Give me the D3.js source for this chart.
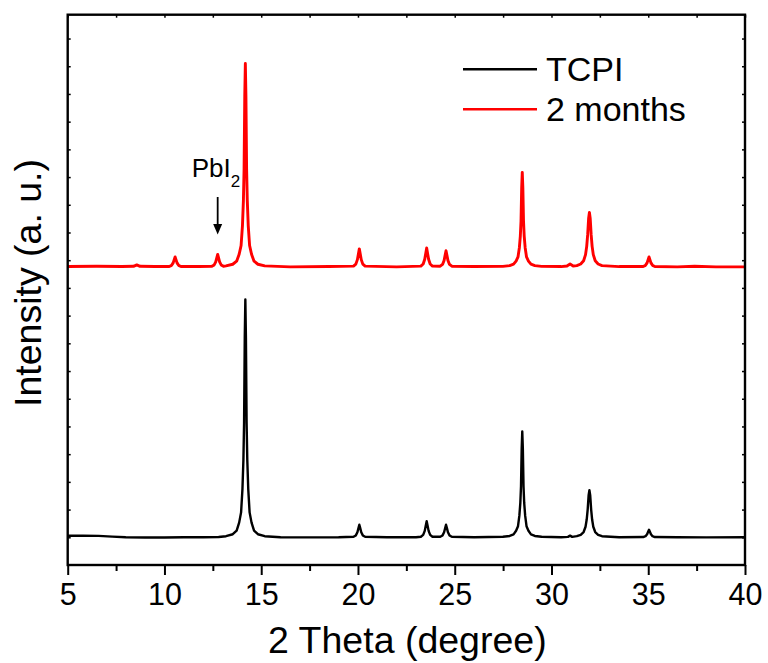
<!DOCTYPE html>
<html>
<head>
<meta charset="utf-8">
<script src="https://cdn.jsdelivr.net/npm/d3@7"></script>
<style>
  body { margin: 0; background: #fff; }
  text { font-family: "Liberation Sans", Arial, sans-serif; }
</style>
</head>
<body>
<svg id="chart" width="768" height="663"></svg>
<script>
// x ticks and labels
var xTicks = [5, 10, 15, 20, 25, 30, 35, 40];
var xMinorTicks = [7.5, 12.5, 17.5, 22.5, 27.5, 32.5, 37.5];
var yTicks = d3.range(5, 100, 5);

// legend
var seriesNames = ["TCPI", "2 months"];
var seriesColors = ["#000000", "#ff0000"];
var seriesWidths = [2.4, 2.9];

// TCPI pattern, [2theta, intensity]
var tcpi = [
  [5.0,5.28],[5.8,5.3],[6.6,5.25],[7.3,5.12],[8.0,5.0],[9.0,4.95],[10.0,4.97],[11.0,5.0],[12.0,5.0],[12.8,5.05],
  [13.18,5.2],[13.53,5.55],[13.73,6.2],[13.86,7.65],[13.96,9.5],[14.03,13.7],[14.08,19],[14.115,25.7],[14.15,41],[14.18,47.9],
  [14.21,41],[14.245,25.7],[14.28,19],[14.33,13.7],[14.40,9.5],[14.50,7.65],[14.63,6.2],[14.83,5.55],[15.18,5.2],
  [16.0,5.02],[17.5,4.98],[19.0,5.0],
  [19.77,5.09],[19.89,5.34],[19.97,5.9],[20.02,6.6],[20.07,7.26],[20.12,6.6],[20.17,5.9],[20.25,5.34],[20.37,5.09],
  [21.5,5.0],[23.0,5.0],
  [23.25,5.1],[23.37,5.43],[23.45,6.16],[23.5,7.03],[23.55,7.9],[23.6,7.03],[23.65,6.16],[23.73,5.43],[23.85,5.1],
  [24.25,5.09],[24.37,5.34],[24.45,5.9],[24.5,6.6],[24.55,7.26],[24.6,6.6],[24.65,5.9],[24.73,5.34],[24.85,5.09],
  [26.0,5.0],
  [27.49,5.09],[27.84,5.24],[28.04,5.53],[28.17,6.18],[28.27,7.0],[28.34,8.9],[28.39,11.2],[28.425,14.2],[28.46,21.0],[28.49,24.1],
  [28.52,21.0],[28.555,14.2],[28.59,11.2],[28.64,8.9],[28.71,7.0],[28.81,6.18],[28.94,5.53],[29.14,5.24],[29.49,5.09],
  [30.5,5.02],[30.85,5.08],[30.96,5.3],[31.07,5.08],
  [31.31,5.2],[31.51,5.45],[31.66,5.95],[31.76,6.9],[31.82,8.2],[31.87,10.0],[31.92,12.6],[31.96,13.5],
  [32.0,12.6],[32.05,10.0],[32.1,8.2],[32.16,6.9],[32.26,5.95],[32.41,5.45],[32.61,5.2],
  [33.5,5.0],
  [34.74,5.05],[34.86,5.2],[34.94,5.54],[34.99,5.95],[35.04,6.35],[35.09,5.95],[35.14,5.54],[35.22,5.2],[35.34,5.05],
  [36.5,5.0],[38.0,4.98],[40.0,5.0]
];

// after 2 months, [2theta, intensity]
var months2 = [
  [5.0,53.85],[6.5,53.9],[7.8,53.85],[8.4,53.9],[8.57,54.15],[8.74,53.9],[9.5,53.85],
  [10.25,53.87],[10.37,54.07],[10.45,54.52],[10.5,55.06],[10.55,55.6],[10.6,55.06],[10.65,54.52],[10.73,54.07],[10.85,53.87],
  [11.8,53.85],
  [12.45,53.89],[12.57,54.14],[12.65,54.7],[12.7,55.38],[12.75,56.05],[12.8,55.38],[12.85,54.7],[12.93,54.14],[13.05,53.89],
  [13.18,53.97],[13.53,54.27],[13.73,54.83],[13.86,56.07],[13.96,57.65],[14.03,61.2],[14.08,65.8],[14.115,71.5],[14.15,84.6],[14.18,90.5],
  [14.21,84.6],[14.245,71.5],[14.28,65.8],[14.33,61.2],[14.40,57.65],[14.50,56.07],[14.63,54.83],[14.83,54.27],[15.18,53.97],
  [16.5,53.8],[18.5,53.85],
  [19.77,53.93],[19.89,54.29],[19.97,55.1],[20.02,56.07],[20.07,57.05],[20.12,56.07],[20.17,55.1],[20.25,54.29],[20.37,53.93],
  [22.0,53.8],
  [23.25,53.94],[23.37,54.31],[23.45,55.16],[23.5,56.18],[23.55,57.2],[23.6,56.18],[23.65,55.16],[23.73,54.31],[23.85,53.94],
  [24.25,53.92],[24.37,54.24],[24.45,54.96],[24.5,55.83],[24.55,56.7],[24.6,55.83],[24.65,54.96],[24.73,54.24],[24.85,53.92],
  [26.0,53.85],
  [27.49,53.88],[27.84,54.02],[28.04,54.28],[28.17,54.85],[28.27,55.59],[28.34,57.25],[28.39,59.35],[28.425,62.0],[28.46,68.1],[28.49,70.85],
  [28.52,68.1],[28.555,62.0],[28.59,59.35],[28.64,57.25],[28.71,55.59],[28.81,54.85],[28.94,54.28],[29.14,54.02],[29.49,53.88],
  [30.5,53.85],[30.8,53.95],[30.96,54.3],[31.12,53.95],
  [31.31,54.03],[31.51,54.32],[31.66,54.9],[31.76,56.0],[31.82,57.5],[31.87,59.6],[31.92,62.6],[31.96,63.6],
  [32.0,62.6],[32.05,59.6],[32.1,57.5],[32.16,56.0],[32.26,54.9],[32.41,54.32],[32.61,54.03],
  [33.5,53.85],
  [34.74,53.87],[34.86,54.07],[34.94,54.52],[34.99,55.06],[35.04,55.6],[35.09,55.06],[35.14,54.52],[35.22,54.07],[35.34,53.87],
  [36.5,53.8],[37.4,53.9],[38.5,53.8],[40.0,53.8]
];

// PbI2 marker position
var pbi2Peak = [12.75, 56.05];

var plotLeft = 67.7, plotRight = 745, plotTop = 14.7, plotBottom = 565;
var svg = d3.select("#chart");

var x = d3.scaleLinear().domain([5, 40]).range([plotLeft, plotRight]);
var y = d3.scaleLinear().domain([0, 99.3]).range([plotBottom, plotTop]);

var line = d3.line()
  .x((d) => x(d[0]))
  .y((d) => y(d[1]));

//DATA LINES
[tcpi, months2].forEach(function (data, i) {
  svg.append("path")
    .datum(data)
    .attr("d", line)
    .attr("fill", "none")
    .attr("stroke", seriesColors[i])
    .attr("stroke-width", seriesWidths[i])
    .attr("stroke-linejoin", "round");
});

//BOTTOM AXIS
var xAxis = d3.axisBottom(x).tickValues(xTicks).tickSize(10).tickPadding(8);
var gx = svg.append("g").attr("transform", `translate(0, ${plotBottom})`).call(xAxis);
gx.select(".domain").remove();
gx.selectAll("line").attr("stroke-width", 2);
gx.selectAll("text").attr("font-size", 30.5).attr("fill", "#000").attr("dy", "0.72em");
svg.append("g").attr("transform", `translate(0, ${plotBottom})`)
  .call(d3.axisBottom(x).tickValues(xMinorTicks).tickSize(6).tickFormat(""))
  .call((g) => g.select(".domain").remove())
  .selectAll("line").attr("stroke-width", 2);

//TOP AXIS (INWARD)
svg.append("g").attr("transform", `translate(0, ${plotTop})`)
  .call(d3.axisBottom(x).tickValues(xTicks.concat(xMinorTicks)).tickSize(3).tickFormat(""))
  .call((g) => g.select(".domain").remove())
  .selectAll("line").attr("stroke-width", 1.5);

//LEFT AND RIGHT AXES (INWARD)
svg.append("g").attr("transform", `translate(${plotLeft}, 0)`)
  .call(d3.axisRight(y).tickValues(yTicks).tickSize(3).tickFormat(""))
  .call((g) => g.select(".domain").remove())
  .selectAll("line").attr("stroke-width", 1.5);
svg.append("g").attr("transform", `translate(${plotRight}, 0)`)
  .call(d3.axisLeft(y).tickValues(yTicks).tickSize(3).tickFormat(""))
  .call((g) => g.select(".domain").remove())
  .selectAll("line").attr("stroke-width", 1.5);

//FRAME
svg.append("rect")
  .attr("x", plotLeft).attr("y", plotTop)
  .attr("width", plotRight - plotLeft).attr("height", plotBottom - plotTop)
  .attr("fill", "none").attr("stroke", "#000").attr("stroke-width", 2.4);

//AXIS TITLES
svg.append("text")
  .attr("x", (plotLeft + plotRight) / 2 + 1).attr("y", 653)
  .attr("text-anchor", "middle").attr("font-size", 37.5)
  .text("2 Theta (degree)");
svg.append("text")
  .attr("transform", "translate(41, 283) rotate(-90)")
  .attr("text-anchor", "middle").attr("font-size", 37.5)
  .text("Intensity (a. u.)");

//LEGEND
seriesNames.forEach(function (name, i) {
  var ly = 69.3 + i * 40;
  svg.append("line")
    .attr("x1", 463).attr("x2", 537).attr("y1", ly).attr("y2", ly)
    .attr("stroke", seriesColors[i]).attr("stroke-width", 2.4);
  svg.append("text")
    .attr("x", 546).attr("y", ly + 12)
    .attr("font-size", 34)
    .text(name);
});

//PBI2 ANNOTATION
var ax = x(pbi2Peak[0]);
var label = svg.append("text").attr("x", ax - 26).attr("y", 177.3).attr("font-size", 26);
label.append("tspan").text("PbI");
label.append("tspan").attr("font-size", 17).attr("dy", 10).text("2");
svg.append("line")
  .attr("x1", ax).attr("x2", ax).attr("y1", 197).attr("y2", 226)
  .attr("stroke", "#000").attr("stroke-width", 1.8);
svg.append("path")
  .attr("d", `M${ax - 4.5},224 L${ax + 4.5},224 L${ax},${y(pbi2Peak[1]) - 20} Z`)
  .attr("fill", "#000");
</script>
</body>
</html>
